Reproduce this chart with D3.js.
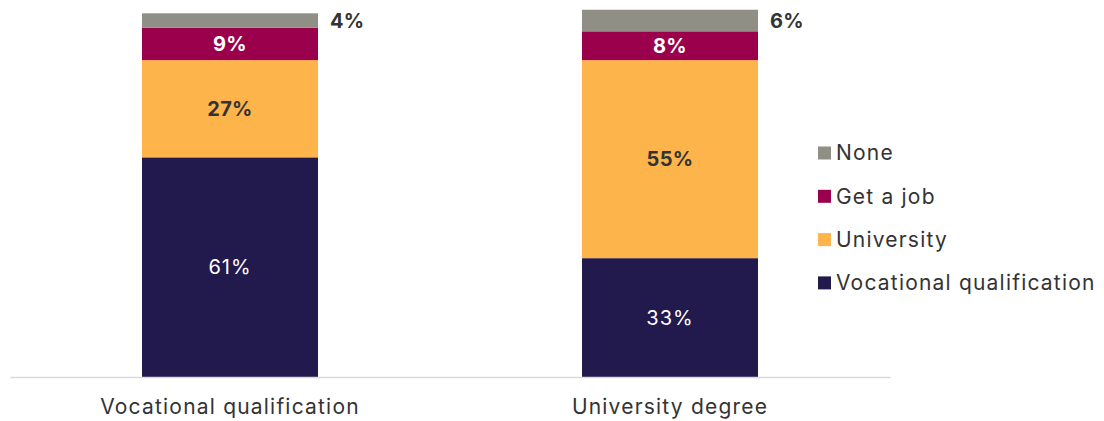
<!DOCTYPE html>
<html>
<head>
<meta charset="utf-8">
<script src="https://cdn.jsdelivr.net/npm/d3@7"></script>
<style>
  body { margin: 0; background: #fff; }
  text { font-family: Inter, "Noto Sans", sans-serif; }
</style>
</head>
<body>
<div class="chart"></div>
<script>
const categories = ['Vocational qualification', 'University degree']
const seriesNames = ['Vocational qualification', 'University', 'Get a job', 'None']
const vocational = [61, 33]
const university = [27, 55]
const getJob = [9, 8]
const none = [4, 6]
const legendOrder = ['None', 'Get a job', 'University', 'Vocational qualification']

const colors = {
    'Vocational qualification': '#22194d',
    'University': '#fdb44b',
    'Get a job': '#9b004c',
    'None': '#8f8f86'
}

const rows = categories.map((c, i) => ({
    cat: c,
    'Vocational qualification': vocational[i],
    'University': university[i],
    'Get a job': getJob[i],
    'None': none[i]
}))

const svg = d3.select('.chart').append('svg')
    .attr('width', 1104)
    .attr('height', 421)

const xScale = d3.scaleBand()
    .domain(categories)
    .range([10, 890])
    .paddingInner(0.6)
    .paddingOuter(0.3)

const yScale = d3.scaleLinear()
    .domain([0, 104.7])
    .range([377, 0])

const stacked = d3.stack().keys(seriesNames)(rows)

const layers = svg.selectAll('.layer')
    .data(stacked)
    .enter()
    .append('g')
    .attr('fill', d => colors[d.key])

layers.selectAll('rect')
    .data(d => d)
    .enter()
    .append('rect')
    .attr('x', d => xScale(d.data.cat))
    .attr('y', d => yScale(d[1]))
    .attr('width', xScale.bandwidth())
    .attr('height', d => yScale(d[0]) - yScale(d[1]))

// value labels
const labelStyle = {
    'Vocational qualification': {fill: '#ffffff', weight: 400, inside: true, ls: 1},
    'University': {fill: '#333333', weight: 700, inside: true, ls: 0.3},
    'Get a job': {fill: '#ffffff', weight: 700, inside: true, ls: 0.3},
    'None': {fill: '#333333', weight: 700, inside: false, ls: 0.3}
}

stacked.forEach(layer => {
    const st = labelStyle[layer.key]
    svg.selectAll(null)
        .data(layer)
        .enter()
        .append('text')
        .attr('x', d => st.inside ? xScale(d.data.cat) + xScale.bandwidth() / 2 : xScale(d.data.cat) + xScale.bandwidth() + 12)
        .attr('y', d => (yScale(d[0]) + yScale(d[1])) / 2)
        .attr('dy', '0.35em')
        .attr('text-anchor', st.inside ? 'middle' : 'start')
        .attr('font-size', 20)
        .attr('font-weight', st.weight)
        .attr('letter-spacing', st.ls)
        .attr('fill', st.fill)
        .text(d => (d[1] - d[0]) + '%')
})

// x axis
const xAxis = d3.axisBottom(xScale).tickSize(0).tickPadding(22)
const gx = svg.append('g')
    .attr('class', 'axis x-axis')
    .attr('transform', 'translate(0,377)')
    .call(xAxis)
gx.select('.domain').attr('stroke', '#d9d9d9').attr('stroke-width', 1.5)
gx.selectAll('text')
    .attr('font-size', 21)
    .attr('letter-spacing', 1.2)
    .attr('fill', '#333')
    .style('font-family', 'Inter, "Noto Sans", sans-serif')

// legend
const legend = svg.append('g').attr('transform', 'translate(818,153)')
const items = legend.selectAll('g')
    .data(legendOrder)
    .enter()
    .append('g')
    .attr('transform', (d, i) => 'translate(0,' + (i * 43.3) + ')')
items.append('rect')
    .attr('x', 0)
    .attr('y', -6.5)
    .attr('width', 13)
    .attr('height', 13)
    .attr('fill', d => colors[d])
items.append('text')
    .attr('x', 18)
    .attr('y', 0)
    .attr('dy', '0.35em')
    .attr('font-size', 21)
    .attr('letter-spacing', 1.2)
    .attr('fill', '#333')
    .text(d => d)
</script>
</body>
</html>
